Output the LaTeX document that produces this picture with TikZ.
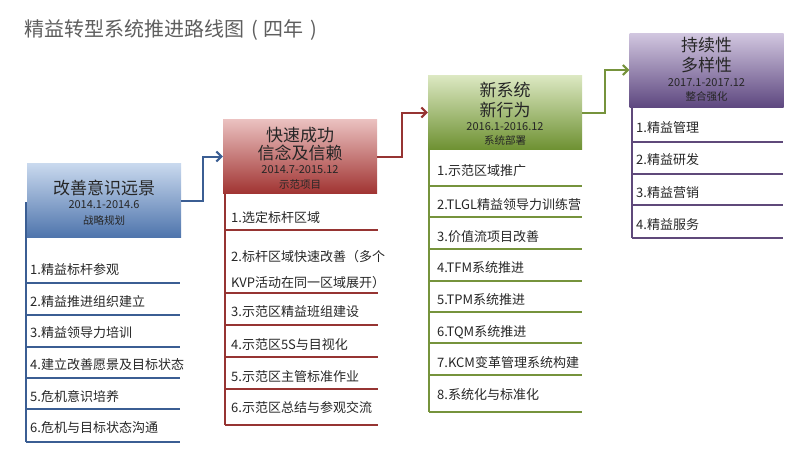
\documentclass[tikz,border=0pt]{standalone}
\usepackage{fontspec}
\setmainfont{Noto Sans CJK SC}
\usetikzlibrary{arrows.meta}
\definecolor{titlegray}{HTML}{5E5E5E}
\definecolor{txt}{HTML}{262626}
\definecolor{bTop}{HTML}{C9D9EE}
\definecolor{bBot}{HTML}{4E74AC}
\definecolor{bLine}{HTML}{3B5E93}
\definecolor{rTop}{HTML}{EBC1C0}
\definecolor{rBot}{HTML}{A03432}
\definecolor{rLine}{HTML}{963432}
\definecolor{gTop}{HTML}{DCE8C2}
\definecolor{gBot}{HTML}{6E9132}
\definecolor{gLine}{HTML}{76933C}
\definecolor{pTop}{HTML}{D2C7E0}
\definecolor{pBot}{HTML}{5E4880}
\definecolor{pLine}{HTML}{5F497A}
\begin{document}
\begin{tikzpicture}[x=1pt,y=-1pt,
  hdr/.style={rectangle, minimum width=154pt, minimum height=74pt, inner sep=0pt, draw=none},
  htitle/.style={inner sep=0pt, text=txt, font=\fontsize{17}{17}\selectfont},
  hdate/.style={inner sep=0pt, text=txt, font=\fontsize{11}{11}\selectfont},
  hsub/.style={inner sep=0pt, text=txt, font=\fontsize{10.5}{10.5}\selectfont},
  item/.style={inner sep=0pt, anchor=west, text=txt, font=\fontsize{13}{13}\selectfont},
  vline/.style={line width=2pt},
  sepline/.style={line width=1.8pt},
  arr/.style={line width=2pt, -{Straight Barb[length=5pt,width=10pt,line width=2pt]}}
]
\useasboundingbox (0,0) rectangle (800,475);
% title
\node[anchor=west, inner sep=0pt, text=titlegray, font=\fontsize{20}{20}\selectfont] (title) at (24,30) {精益转型系统推进路线图\hspace{7pt}(\hspace{6pt}四年\hspace{7pt})};

% ===== Box 1 (blue)
\draw[vline, bLine] (26,202) -- (26,442);
\node[hdr, top color=bTop, bottom color=bBot] (h1) at (104,200.5) {};
\node[htitle] (h1a) at (h1.center |- 0,188) {改善意识远景};
\node[hdate] (h1b) at (h1.center |- 0,205) {2014.1-2014.6};
\node[hsub] (h1c) at (h1.center |- 0,220) {战略规划};
\foreach \y in {283,315,347,378,409,442} \draw[sepline, bLine] (26,\y) -- (180,\y);
\node[item] (b1i1) at (30,270) {1.精益标杆参观};
\node[item] (b1i2) at (30,302) {2.精益推进组织建立};
\node[item] (b1i3) at (30,333) {3.精益领导力培训};
\node[item] (b1i4) at (30,365) {4.建立改善愿景及目标状态};
\node[item] (b1i5) at (30,397) {5.危机意识培养};
\node[item] (b1i6) at (30,428) {6.危机与目标状态沟通};

% ===== Box 2 (red)
\draw[vline, rLine] (225,163) -- (225,425);
\node[hdr, top color=rTop, bottom color=rBot] (h2) at (300,156.5) {};
\node[htitle] (h2a) at (h2.center |- 0,135) {快速成功};
\node[htitle] (h2b) at (h2.center |- 0,153) {信念及信赖};
\node[hdate] (h2c) at (h2.center |- 0,170) {2014.7-2015.12};
\node[hsub] (h2d) at (h2.center |- 0,184) {示范项目};
\foreach \y in {230,293,325,357,389,425} \draw[sepline, rLine] (225,\y) -- (378,\y);
\node[item] (b2i1) at (231,218) {1.选定标杆区域};
\node[item, align=left, font=\fontsize{13}{26}\selectfont] (b2i2) at (231,270) {2.标杆区域快速改善（多个\\KVP活动在同一区域展开）};
\node[item] (b2i3) at (231,312) {3.示范区精益班组建设};
\node[item] (b2i4) at (231,345) {4.示范区5S与目视化};
\node[item] (b2i5) at (231,377) {5.示范区主管标准作业};
\node[item] (b2i6) at (231,408) {6.示范区总结与参观交流};

% ===== Box 3 (green)
\draw[vline, gLine] (429,120) -- (429,412);
\node[hdr, top color=gTop, bottom color=gBot] (h3) at (505,112.5) {};
\node[htitle] (h3a) at (h3.center |- 0,90) {新系统};
\node[htitle] (h3b) at (h3.center |- 0,110) {新行为};
\node[hdate] (h3c) at (h3.center |- 0,127) {2016.1-2016.12};
\node[hsub] (h3d) at (h3.center |- 0,140) {系统部署};
\foreach \y in {186,217,249,281,312,343,375,412} \draw[sepline, gLine] (429,\y) -- (582,\y);
\node[item] (b3i1) at (437,171) {1.示范区域推广};
\node[item] (b3i2) at (437,205) {2.TLGL精益领导力训练营};
\node[item] (b3i3) at (437,237) {3.价值流项目改善};
\node[item] (b3i4) at (437,268) {4.TFM系统推进};
\node[item] (b3i5) at (437,300) {5.TPM系统推进};
\node[item] (b3i6) at (437,332) {6.TQM系统推进};
\node[item] (b3i7) at (437,363) {7.KCM变革管理系统构建};
\node[item] (b3i8) at (437,395) {8.系统化与标准化};

% ===== Box 4 (purple)
\draw[vline, pLine] (632,73) -- (632,238);
\node[hdr, top color=pTop, bottom color=pBot] (h4) at (706.5,70) {};
\node[htitle] (h4a) at (h4.center |- 0,45) {持续性};
\node[htitle] (h4b) at (h4.center |- 0,65) {多样性};
\node[hdate] (h4c) at (h4.center |- 0,83) {2017.1-2017.12};
\node[hsub] (h4d) at (h4.center |- 0,97) {整合强化};
\foreach \y in {142,174,205,238} \draw[sepline, pLine] (632,\y) -- (783,\y);
\node[item] (b4i1) at (636,128) {1.精益管理};
\node[item] (b4i2) at (636,160) {2.精益研发};
\node[item] (b4i3) at (636,193) {3.精益营销};
\node[item] (b4i4) at (636,225) {4.精益服务};

% ===== connectors
\draw[arr, bLine] (h1.east) -- ++(22,0) |- (h2.west);
\draw[arr, rLine] (h2.east) -- ++(25,0) |- (h3.west);
\draw[arr, gLine] (h3.east) -- ++(23,0) |- (h4.west);
\end{tikzpicture}
\end{document}
